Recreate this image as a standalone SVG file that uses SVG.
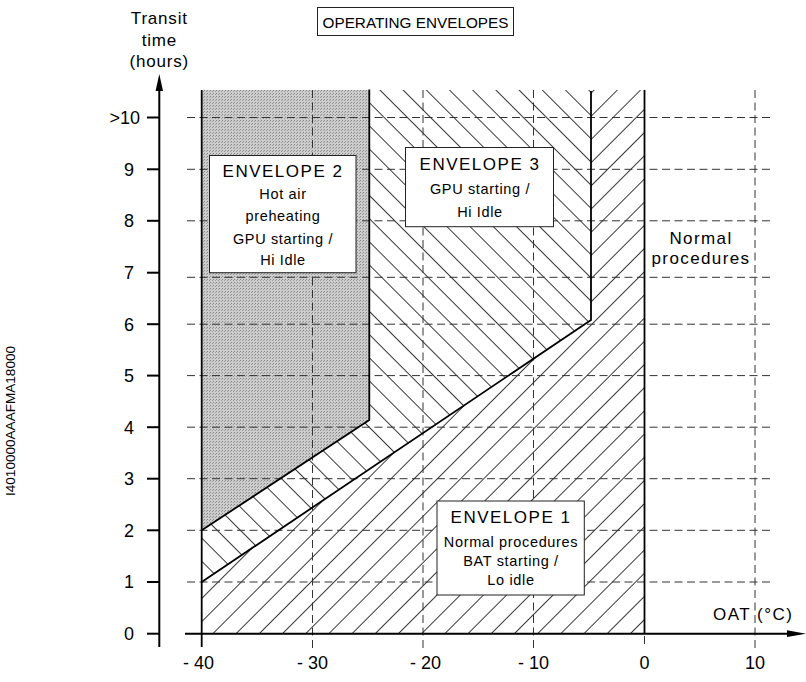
<svg xmlns="http://www.w3.org/2000/svg" width="806" height="682" viewBox="0 0 806 682">
<style>
.t{font-family:'Liberation Sans',Arial,Helvetica,sans-serif;fill:#000}
.env{font-size:17px;letter-spacing:1.5px}
.body{font-size:14.5px;letter-spacing:0.65px}
.tick{font-size:18px}
.grid{stroke:#333;stroke-width:1;stroke-dasharray:8 4.5;fill:none}
.bd{stroke:#000;stroke-width:1.8;fill:none}
.ax{stroke:#000;stroke-width:2;fill:none}
.box{fill:#fff;stroke:#222;stroke-width:1}
</style>
<defs>
<pattern id="fw" patternUnits="userSpaceOnUse" width="16.4" height="16.4" patternTransform="rotate(45)">
<line x1="8.2" y1="-1" x2="8.2" y2="18" stroke="#222" stroke-width="0.9"/>
</pattern>
<pattern id="bk" patternUnits="userSpaceOnUse" width="16.4" height="16.4" patternTransform="rotate(-45)">
<line x1="8.2" y1="-1" x2="8.2" y2="18" stroke="#222" stroke-width="0.9"/>
</pattern>
<pattern id="gr" patternUnits="userSpaceOnUse" width="3" height="3">
<rect width="3" height="3" fill="#cdcdcd"/>
<rect x="0" y="0" width="1" height="1" fill="#858585"/>
<rect x="2" y="1" width="1" height="1" fill="#9a9a9a"/>
</pattern>
</defs>
<rect width="806" height="682" fill="#fff"/>

<g id="regions">
<polygon id="region-env1" points="201.7,582 591,320 591,90 644.5,90 644.5,633.7 201.7,633.7" fill="url(#fw)"/>
<polygon id="region-env3" points="201.7,530.3 369.3,420 369.3,90 591,90 591,320 201.7,582" fill="url(#bk)"/>
<polygon id="region-env2" points="201.7,90 369.3,90 369.3,420 201.7,530.3" fill="url(#gr)"/>
</g>

<g id="grid">
<line class="grid" x1="187" y1="582" x2="772" y2="582"/>
<line class="grid" x1="187" y1="530.3" x2="772" y2="530.3"/>
<line class="grid" x1="187" y1="478.7" x2="772" y2="478.7"/>
<line class="grid" x1="187" y1="427.2" x2="772" y2="427.2"/>
<line class="grid" x1="187" y1="375.6" x2="772" y2="375.6"/>
<line class="grid" x1="187" y1="324.2" x2="772" y2="324.2"/>
<line class="grid" x1="187" y1="277.3" x2="772" y2="277.3"/>
<line class="grid" x1="187" y1="220.8" x2="772" y2="220.8"/>
<line class="grid" x1="187" y1="169.3" x2="772" y2="169.3"/>
<line class="grid" x1="187" y1="117.5" x2="772" y2="117.5"/>
<line class="grid" x1="312.5" y1="90" x2="312.5" y2="648"/>
<line class="grid" x1="423" y1="90" x2="423" y2="648"/>
<line class="grid" x1="533.5" y1="90" x2="533.5" y2="648"/>
<line class="grid" x1="755" y1="90" x2="755" y2="648"/>
<line class="grid" x1="644.5" y1="636" x2="644.5" y2="648"/>
</g>

<g id="connectors">
<line class="bd" x1="201.7" y1="90" x2="201.7" y2="647"/>
<polyline class="bd" points="201.7,530.3 369.3,420 369.3,89.5"/>
<polyline class="bd" points="201.7,582 591,320 591,91"/>
<line class="bd" x1="644.5" y1="90" x2="644.5" y2="633.7"/>
</g>

<g id="axes">
<line class="ax" x1="159.3" y1="647" x2="159.3" y2="88"/>
<polygon points="159.3,74 155.6,91 163,91" fill="#000"/>
<line class="ax" x1="185" y1="633.7" x2="790" y2="633.7"/>
<polygon points="806,633.7 787,630.3 787,637.1" fill="#000"/>
<g class="ax">
<line x1="147" y1="633.7" x2="159.3" y2="633.7"/>
<line x1="147" y1="582" x2="159.3" y2="582"/>
<line x1="147" y1="530.3" x2="159.3" y2="530.3"/>
<line x1="147" y1="478.7" x2="159.3" y2="478.7"/>
<line x1="147" y1="427.2" x2="159.3" y2="427.2"/>
<line x1="147" y1="375.6" x2="159.3" y2="375.6"/>
<line x1="147" y1="324.2" x2="159.3" y2="324.2"/>
<line x1="147" y1="272.7" x2="159.3" y2="272.7"/>
<line x1="147" y1="220.8" x2="159.3" y2="220.8"/>
<line x1="147" y1="169.3" x2="159.3" y2="169.3"/>
<line x1="147" y1="117.5" x2="159.3" y2="117.5"/>
</g>
<g class="t tick" text-anchor="end">
<text x="134" y="640">0</text>
<text x="134" y="588.3">1</text>
<text x="134" y="536.6">2</text>
<text x="134" y="485">3</text>
<text x="134" y="433.5">4</text>
<text x="134" y="381.9">5</text>
<text x="134" y="330.5">6</text>
<text x="134" y="279">7</text>
<text x="134" y="227.1">8</text>
<text x="134" y="175.6">9</text>
<text x="140" y="123.8">&gt;10</text>
</g>
<g class="t tick" text-anchor="end">
<text x="214" y="668.5">- 40</text>
<text x="328" y="668.5">- 30</text>
<text x="441" y="668.5">- 20</text>
<text x="549" y="668.5">- 10</text>
</g>
<g class="t tick" text-anchor="middle">
<text x="644.5" y="668.5">0</text>
<text x="755" y="668.5">10</text>
</g>
<text class="t" x="713" y="619.5" font-size="17" letter-spacing="1.5">OAT (°C)</text>
<g class="t" font-size="17" letter-spacing="0.8" text-anchor="middle">
<text x="159.3" y="24">Transit</text>
<text x="159.3" y="45.5">time</text>
<text x="159.3" y="67">(hours)</text>
</g>
</g>

<g id="title">
<rect class="box" x="317.5" y="7.5" width="196" height="28"/>
<text class="t" x="415.5" y="27.5" font-size="15.3" text-anchor="middle">OPERATING ENVELOPES</text>
</g>

<g id="envelope2">
<rect class="box" x="209.5" y="155.5" width="146.5" height="117.2"/>
<text class="t env" x="283" y="177" text-anchor="middle">ENVELOPE 2</text>
<text class="t body" x="283" y="198.5" text-anchor="middle">Hot air</text>
<text class="t body" x="283" y="220.5" text-anchor="middle">preheating</text>
<text class="t body" x="283" y="244" text-anchor="middle">GPU starting /</text>
<text class="t body" x="283" y="265" text-anchor="middle">Hi Idle</text>
</g>

<g id="envelope3">
<rect class="box" x="405.5" y="147.5" width="148" height="79.2"/>
<text class="t env" x="480" y="170" text-anchor="middle">ENVELOPE 3</text>
<text class="t body" x="480" y="193.5" text-anchor="middle">GPU starting /</text>
<text class="t body" x="480" y="216.7" text-anchor="middle">Hi Idle</text>
</g>

<g id="envelope1">
<rect class="box" x="437" y="501" width="147.3" height="94"/>
<text class="t env" x="511" y="523" text-anchor="middle">ENVELOPE 1</text>
<text class="t body" x="511" y="546.7" text-anchor="middle">Normal procedures</text>
<text class="t body" x="511" y="566" text-anchor="middle">BAT starting /</text>
<text class="t body" x="511" y="585" text-anchor="middle">Lo idle</text>
</g>

<g id="normal">
<text class="t" x="701" y="244" font-size="17" letter-spacing="1.4" text-anchor="middle">Normal</text>
<text class="t" x="701" y="264" font-size="17" letter-spacing="1.4" text-anchor="middle">procedures</text>
</g>

<text class="t" transform="translate(15,421) rotate(-90)" font-size="12" text-anchor="middle" textLength="150" lengthAdjust="spacingAndGlyphs">I4010000AAAFMA18000</text>
</svg>
